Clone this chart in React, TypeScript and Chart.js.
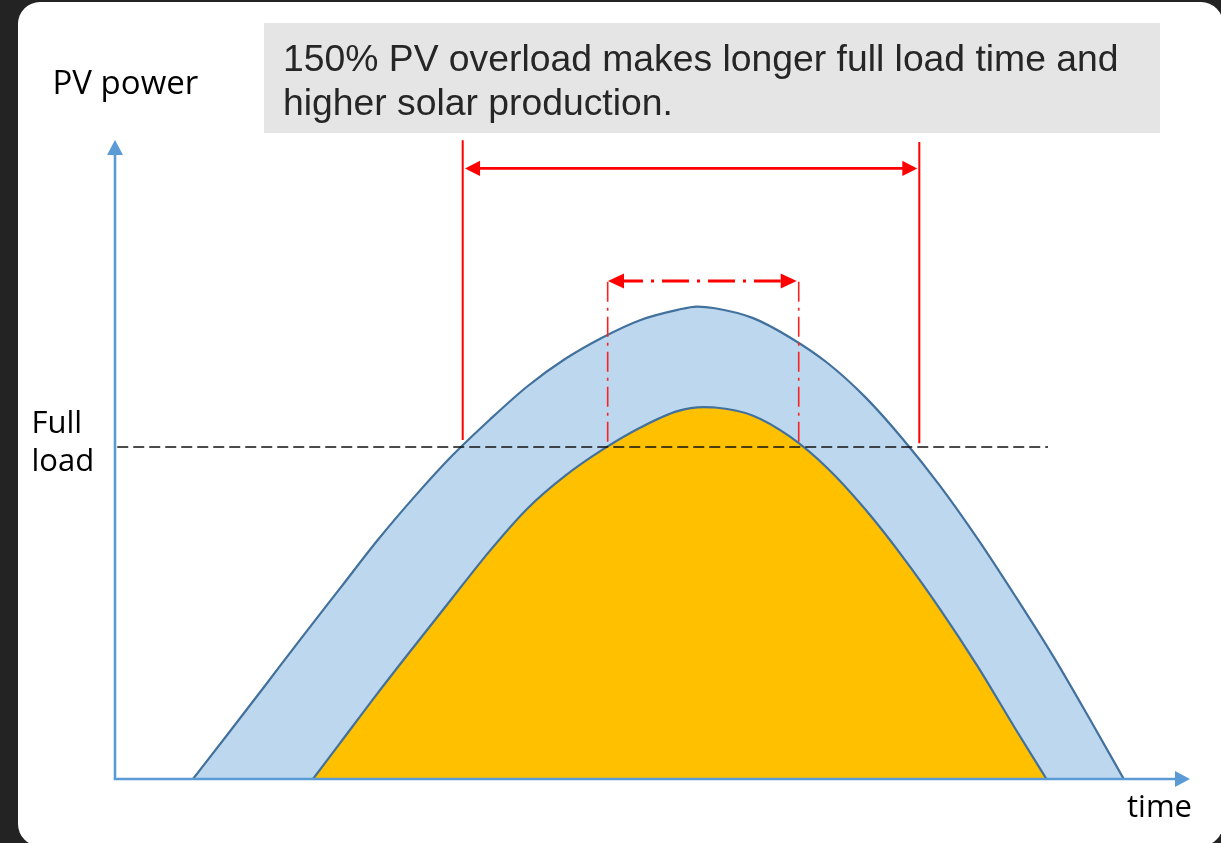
import React, { useEffect, useRef } from "react";
import { Chart, registerables } from "chart.js";

Chart.register(...registerables);

// ---- axis ranges (time in hours, power in % of full load) ----
const timeRange = [5, 19.333];
const powerRange = [0, 192.47];

// ---- 150% PV (outer curve) ----
const outerTime = [6.04, 6.5, 7, 7.5, 8, 8.5, 9, 9.5, 10, 10.5, 11, 11.5, 12, 12.5, 12.76, 13, 13.5, 14, 14.5, 15, 15.5, 16, 16.5, 17, 17.5, 18, 18.45];
const outerPower = [0, 13.4, 28.1, 42.9, 57.4, 71.9, 85.2, 97.5, 108.3, 118.3, 126.5, 133.0, 138.2, 141.3, 142.3, 141.8, 138.9, 133.0, 125.3, 115.1, 102.5, 88.3, 72.4, 55.2, 37.3, 17.9, 0];

// ---- 100% PV (inner curve) ----
const innerTime = [7.64, 8, 8.5, 9, 9.5, 10, 10.5, 11, 11.5, 12, 12.5, 12.85, 13, 13.5, 14, 14.5, 15, 15.5, 16, 16.5, 17, 17.42];
const innerPower = [0, 10.8, 25.8, 40.3, 54.6, 68.8, 81.5, 91.3, 99.2, 105.8, 110.8, 112.0, 111.9, 109.5, 103.1, 93.6, 81.3, 67.0, 51.2, 34.0, 15.3, 0];

// ---- full load line ----
const fullLoad = 100;
const fullLoadSpan = [5.03, 17.44];

// ---- full-load time markers ----
const wideMarkers = [9.636, 15.724];
const wideMarkerTop = [192.4, 191.9];
const wideMarkerBottom = [102.1, 101.1];
const wideSpan = [9.667, 15.697];
const wideSpanLevel = 183.9;

const narrowMarkers = [11.569, 14.116];
const narrowMarkerTop = [149.8, 149.8];
const narrowMarkerBottom = [99.7, 100.2];
const narrowSpan = [11.573, 14.089];
const narrowSpanLevel = 150.0;

// ---- texts ----
const noteLines = ["150% PV overload makes longer full load time and", "higher solar production."];
const yTitle = "PV power";
const fullLoadLabel = ["Full", "load"];
const xTitle = "time";

const RED = "#FF0000";
const AXIS = "#5B9BD5";

function pts(xs: number[], ys: number[]) {
  return xs.map((x, i) => ({ x, y: ys[i] }));
}

function segment(x1: number, y1: number, x2: number, y2: number) {
  return [
    { x: x1, y: y1 },
    { x: x2, y: y2 },
  ];
}

function drawArrow(
  ctx: CanvasRenderingContext2D,
  x1: number,
  x2: number,
  y: number,
  headLen: number,
  headHalf: number,
  width: number,
  dash: number[] | null,
  dashOffset: number
) {
  ctx.save();
  ctx.strokeStyle = RED;
  ctx.fillStyle = RED;
  ctx.lineWidth = width;
  ctx.lineCap = "butt";
  ctx.beginPath();
  if (dash) {
    ctx.setLineDash(dash);
    ctx.lineDashOffset = dashOffset;
    ctx.moveTo(x1, y);
    ctx.lineTo(x2 - headLen, y);
  } else {
    ctx.moveTo(x1 + headLen - 1, y);
    ctx.lineTo(x2 - headLen + 1, y);
  }
  ctx.stroke();
  ctx.setLineDash([]);
  ctx.beginPath();
  ctx.moveTo(x1, y);
  ctx.lineTo(x1 + headLen, y - headHalf);
  ctx.lineTo(x1 + headLen, y + headHalf);
  ctx.closePath();
  ctx.fill();
  ctx.beginPath();
  ctx.moveTo(x2, y);
  ctx.lineTo(x2 - headLen, y - headHalf);
  ctx.lineTo(x2 - headLen, y + headHalf);
  ctx.closePath();
  ctx.fill();
  ctx.restore();
}

const overlayPlugin = {
  id: "overlay",
  afterDatasetsDraw(chart: any) {
    const ctx: CanvasRenderingContext2D = chart.ctx;
    const xs = chart.scales.x;
    const ys = chart.scales.y;
    const area = chart.chartArea;

    // axes with arrow heads
    ctx.save();
    ctx.strokeStyle = AXIS;
    ctx.fillStyle = AXIS;
    ctx.lineWidth = 2.6;
    ctx.beginPath();
    ctx.moveTo(area.left, area.top + 14);
    ctx.lineTo(area.left, area.bottom);
    ctx.lineTo(area.right - 14, area.bottom);
    ctx.stroke();
    ctx.beginPath();
    ctx.moveTo(area.left, area.top);
    ctx.lineTo(area.left - 8, area.top + 15);
    ctx.lineTo(area.left + 8, area.top + 15);
    ctx.closePath();
    ctx.fill();
    ctx.beginPath();
    ctx.moveTo(area.right, area.bottom);
    ctx.lineTo(area.right - 15, area.bottom - 8);
    ctx.lineTo(area.right - 15, area.bottom + 8);
    ctx.closePath();
    ctx.fill();
    ctx.restore();

    // span arrows
    drawArrow(
      ctx,
      xs.getPixelForValue(wideSpan[0]),
      xs.getPixelForValue(wideSpan[1]),
      ys.getPixelForValue(wideSpanLevel),
      15,
      7.6,
      2.7,
      null,
      0
    );
    drawArrow(
      ctx,
      xs.getPixelForValue(narrowSpan[0]),
      xs.getPixelForValue(narrowSpan[1]),
      ys.getPixelForValue(narrowSpanLevel),
      16,
      7.6,
      3,
      [27, 8, 3, 8],
      38
    );
  },
};

const curveCommon = {
  borderColor: "#41719C",
  borderWidth: 2.2,
  pointRadius: 0,
  cubicInterpolationMode: "monotone",
  fill: "origin",
};

const straightCommon = {
  pointRadius: 0,
  tension: 0,
  fill: false,
};

export default function App() {
  const ref = useRef<HTMLCanvasElement>(null);

  useEffect(() => {
    if (!ref.current) return;
    const chart = new Chart(ref.current, {
      type: "line",
      data: {
        datasets: [
          {
            ...curveCommon,
            label: "100% PV",
            data: pts(innerTime, innerPower),
            backgroundColor: "#FFC000",
            order: 1,
          },
          {
            ...curveCommon,
            label: "150% PV",
            data: pts(outerTime, outerPower),
            backgroundColor: "#BDD7EE",
            order: 2,
          },
          {
            ...straightCommon,
            label: "Full load",
            data: segment(fullLoadSpan[0], fullLoad, fullLoadSpan[1], fullLoad),
            borderColor: "#111111",
            borderWidth: 1.3,
            borderDash: [11, 5],
            order: 0,
          },
          ...wideMarkers.map((x, i) => ({
            ...straightCommon,
            label: "overload full-load time " + i,
            data: segment(x, wideMarkerTop[i], x, wideMarkerBottom[i]),
            borderColor: RED,
            borderWidth: 2,
            order: -1,
          })),
          ...narrowMarkers.map((x, i) => ({
            ...straightCommon,
            label: "normal full-load time " + i,
            data: segment(x, narrowMarkerTop[i], x, narrowMarkerBottom[i]),
            borderColor: "#FF2020",
            borderWidth: 1.6,
            borderDash: [20, 6, 3, 6],
            order: -1,
          })),
        ] as any,
      },
      options: {
        animation: false,
        responsive: false,
        maintainAspectRatio: false,
        events: [],
        layout: { padding: { left: 115, top: 140, right: 31, bottom: 64 } },
        plugins: {
          legend: { display: false },
          tooltip: { enabled: false },
        },
        scales: {
          x: { type: "linear", display: false, min: timeRange[0], max: timeRange[1] },
          y: { type: "linear", display: false, min: powerRange[0], max: powerRange[1] },
        },
      },
      plugins: [overlayPlugin],
    } as any);
    return () => chart.destroy();
  }, []);

  const openSans = '"Open Sans", "Noto Sans", sans-serif';

  return (
    <div
      style={{
        position: "fixed",
        left: 0,
        top: 0,
        width: 1221,
        height: 843,
        background: "#232323",
        overflow: "hidden",
      }}
    >
      <div
        style={{
          position: "absolute",
          left: 18,
          top: 2,
          width: 1205,
          height: 844,
          background: "#ffffff",
          borderRadius: 22,
        }}
      />
      <div
        style={{
          position: "absolute",
          left: 264,
          top: 23,
          width: 896,
          height: 110,
          background: "#E5E5E5",
        }}
      />
      <canvas
        ref={ref}
        width={1221}
        height={843}
        style={{ position: "absolute", left: 0, top: 0, width: 1221, height: 843, display: "block" }}
      />
      <div
        style={{
          position: "absolute",
          left: 283,
          top: 36,
          font: '37.3px "Liberation Sans", Arial, sans-serif',
          lineHeight: "44px",
          color: "#262626",
          whiteSpace: "nowrap",
        }}
      >
        {noteLines.map((l, i) => (
          <div key={i}>{l}</div>
        ))}
      </div>
      <div
        style={{
          position: "absolute",
          left: 52.5,
          top: 62,
          fontFamily: openSans,
          fontSize: 33,
          lineHeight: "40px",
          color: "#000",
          whiteSpace: "nowrap",
        }}
      >
        {yTitle}
      </div>
      <div
        style={{
          position: "absolute",
          left: 31.5,
          top: 402,
          fontFamily: openSans,
          fontSize: 31,
          lineHeight: "38.3px",
          color: "#000",
          whiteSpace: "nowrap",
        }}
      >
        {fullLoadLabel.map((l, i) => (
          <div key={i}>{l}</div>
        ))}
      </div>
      <div
        style={{
          position: "absolute",
          left: 1127,
          top: 785.6,
          fontFamily: openSans,
          fontSize: 31,
          lineHeight: "38px",
          color: "#000",
          whiteSpace: "nowrap",
        }}
      >
        {xTitle}
      </div>
    </div>
  );
}
